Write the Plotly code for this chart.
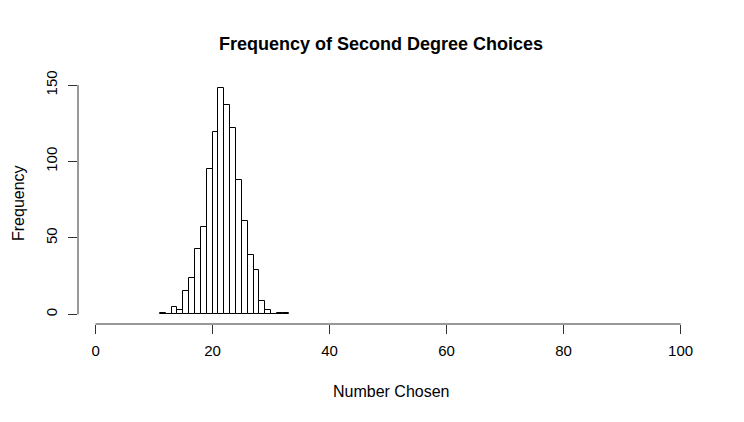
import plotly.graph_objects as go

# Histogram data (bins of width 1, left edges)
bin_left = [11, 12, 13, 14, 15, 16, 17, 18, 19, 20, 21, 22, 23, 24, 25, 26, 27, 28, 29, 30, 31, 32]
counts = [1, 0, 5, 3, 15, 24, 43, 57, 95, 119, 148, 137, 122, 88, 61, 39, 29, 9, 3, 0, 1, 1]
bin_width = 1

x_ticks = [0, 20, 40, 60, 80, 100]
y_ticks = [0, 50, 100, 150]

title_text = "Frequency of Second Degree Choices"
x_label = "Number Chosen"
y_label = "Frequency"

FONT = "Liberation Sans, Arial, Helvetica, sans-serif"
AXC = "#333333"

fig = go.Figure()
fig.add_trace(go.Bar(
    x=[b + bin_width / 2 for b in bin_left],
    y=counts,
    width=bin_width,
    marker=dict(color="white", line=dict(color="black", width=1)),
    hoverinfo="x+y",
))

fig.update_layout(
    width=736, height=414,
    margin=dict(l=70, r=40, t=71, b=98),
    paper_bgcolor="white", plot_bgcolor="white",
    showlegend=False,
    bargap=0,
    font=dict(family=FONT, size=15, color="black"),
    xaxis=dict(range=[-3, 104], tickvals=x_ticks, ticktext=[str(v) for v in x_ticks],
               ticks="outside", ticklen=9, tickcolor=AXC, tickwidth=1,
               showline=False, showgrid=False, zeroline=False,
               ticklabelstandoff=4, tickfont=dict(size=15)),
    yaxis=dict(range=[-6.3, 154], tickvals=y_ticks, ticktext=[str(v) for v in y_ticks],
               ticks="outside", ticklen=9, tickcolor=AXC, tickwidth=1,
               showline=False, showgrid=False, zeroline=False,
               tickangle=-90, ticklabelstandoff=5, tickfont=dict(size=15)),
    shapes=[
        dict(type="line", xref="x", yref="paper", x0=min(x_ticks), x1=max(x_ticks), y0=0, y1=0,
             line=dict(color=AXC, width=1)),
        dict(type="line", xref="paper", yref="y", x0=0, x1=0, y0=min(y_ticks), y1=max(y_ticks),
             line=dict(color=AXC, width=1)),
    ],
    annotations=[
        dict(text="<b>" + title_text + "</b>", xref="paper", yref="paper",
             x=(381 - 78) / 626, y=(324 - 44) / 245, xanchor="center", yanchor="middle",
             showarrow=False, font=dict(size=18, family=FONT)),
        dict(text=x_label, xref="paper", yref="paper",
             x=(391 - 78) / 626, y=(324 - 391) / 245, xanchor="center", yanchor="middle",
             showarrow=False, font=dict(size=16, family=FONT)),
        dict(text=y_label, xref="paper", yref="paper", textangle=-90,
             x=(18 - 78) / 626, y=(324 - 203) / 245, xanchor="center", yanchor="middle",
             showarrow=False, font=dict(size=16, family=FONT)),
    ],
)

fig.write_html("out.html")
